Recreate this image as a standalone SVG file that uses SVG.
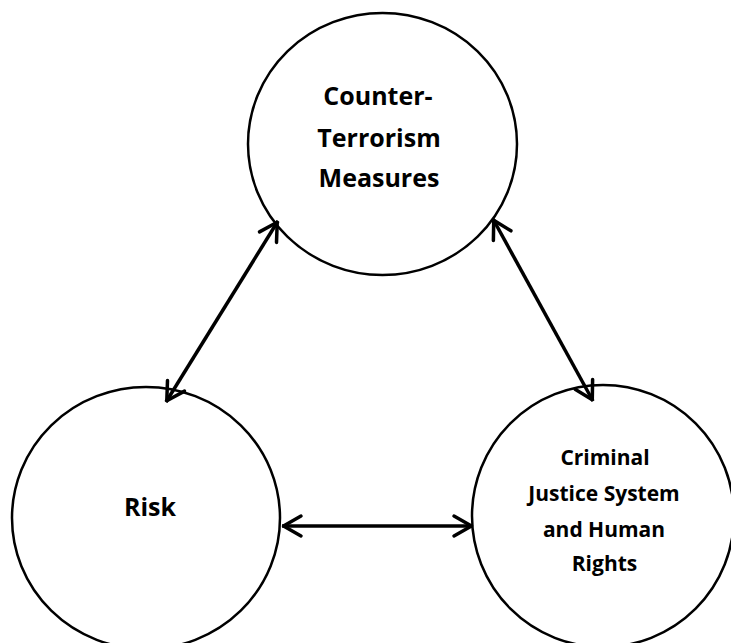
<svg xmlns="http://www.w3.org/2000/svg" width="731" height="643" viewBox="0 0 731 643">
<style>
.node ellipse{fill:#fff;stroke:#000;stroke-width:2.5}
.lbl{font-family:"Open Sans",Lato,"Liberation Sans",sans-serif;font-weight:bold;fill:#000;text-anchor:middle}
.big{font-size:25px}
.small{font-size:21px}
.conn line{stroke:#000;stroke-width:3.5;fill:none;marker-start:url(#ah);marker-end:url(#ah)}
</style>
<defs>
<marker id="ah" markerUnits="userSpaceOnUse" markerWidth="30" markerHeight="30" viewBox="-25 -15 30 30" refX="0" refY="0" orient="auto-start-reverse">
<path d="M-19,-10 L-1.5,0 L-19,10" fill="none" stroke="#000" stroke-width="3.5" stroke-linejoin="round" stroke-linecap="round"/>
</marker>
</defs>
<rect width="731" height="643" fill="#fff"/>
<g id="node-ct" class="node">
<ellipse cx="382.5" cy="144" rx="134.5" ry="131"/>
<text class="lbl big" x="378" y="105">Counter-</text>
<text class="lbl big" x="379" y="147">Terrorism</text>
<text class="lbl big" x="379" y="187">Measures</text>
</g>
<g id="node-risk" class="node">
<ellipse cx="146" cy="518" rx="134" ry="131"/>
<text class="lbl big" x="150" y="516">Risk</text>
</g>
<g id="node-cjs" class="node">
<ellipse cx="603" cy="516" rx="131" ry="131"/>
<text class="lbl small" x="605" y="465">Criminal</text>
<text class="lbl small" x="604" y="501">Justice System</text>
<text class="lbl small" x="604" y="537">and Human</text>
<text class="lbl small" x="604.5" y="571">Rights</text>
</g>
<g id="connectors" class="conn">
<line x1="278" y1="221" x2="166" y2="402"/>
<line x1="493" y1="219" x2="593" y2="401"/>
<line x1="282" y1="526" x2="473" y2="526"/>
</g>
</svg>
